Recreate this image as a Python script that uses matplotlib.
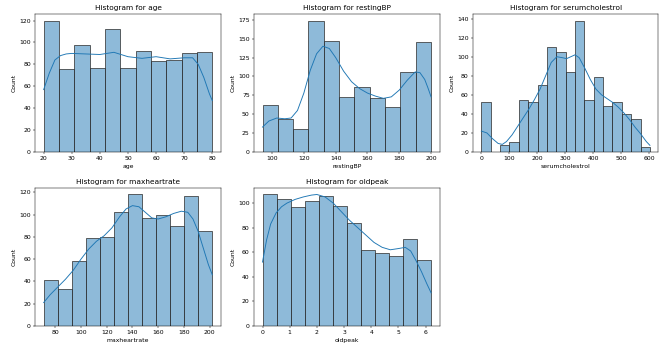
import numpy as np
import matplotlib
matplotlib.use("Agg")
import matplotlib.pyplot as plt

# histogram counts and value range for each column
AGE_RANGE = (20, 80)
AGE_COUNTS = [120, 76, 98, 77, 112, 77, 92, 83, 84, 90, 91]
AGE_KDE_X = [20, 22, 24, 26, 28, 30, 35, 40, 45, 50, 55, 60, 65, 70, 73, 75, 77, 79, 80]
AGE_KDE_Y = [57, 72, 84, 88, 89.5, 90, 89.5, 89, 91, 87, 85.5, 87, 85, 86, 86, 80, 68, 53, 47]

BP_RANGE = (94, 200)
BP_COUNTS = [62, 44, 31, 174, 147, 73, 86, 72, 59, 106, 146]
BP_KDE_X = [94, 98, 103, 108, 112, 116, 120, 124, 128, 132, 136, 140, 145, 150, 155, 160, 165,
            170, 175, 180, 185, 190, 193, 196, 198, 200]
BP_KDE_Y = [33, 41, 45, 44, 45, 55, 78, 108, 130, 140, 137, 125, 107, 93, 84, 78, 74,
            71, 73, 82, 95, 106, 105, 96, 85, 73]

CHOL_RANGE = (0, 603)
CHOL_COUNTS = [53, 0, 7, 11, 55, 52, 70, 110, 105, 84, 138, 55, 79, 48, 53, 40, 35, 5]
CHOL_KDE_X = [0, 20, 40, 60, 75, 90, 110, 130, 150, 170, 190, 210, 230, 250, 270, 290, 305,
              320, 335, 350, 370, 390, 410, 430, 450, 470, 490, 510, 530, 550, 570, 590, 603]
CHOL_KDE_Y = [22, 20, 14, 9, 8, 11, 18, 27, 36, 45, 55, 66, 80, 94, 100, 99, 98,
              100, 102, 99, 88, 76, 66, 60, 56, 52, 47, 41, 34, 26, 19, 11, 7]

HR_RANGE = (71, 202)
HR_COUNTS = [41, 33, 58, 79, 80, 102, 118, 97, 100, 90, 117, 85]
HR_KDE_X = [71, 76, 82, 88, 94, 100, 106, 112, 118, 124, 130, 135, 140, 145, 150, 155, 160,
            166, 172, 178, 183, 187, 191, 195, 199, 202]
HR_KDE_Y = [21, 28, 35, 42, 50, 60, 69, 76, 81, 88, 98, 105, 108, 107, 102, 97, 96,
            98, 101, 103, 102, 96, 85, 70, 55, 46]

OP_RANGE = (0, 6.2)
OP_COUNTS = [107, 103, 97, 102, 106, 98, 84, 62, 59, 57, 71, 54]
OP_KDE_X = [0, 0.15, 0.3, 0.5, 0.7, 0.9, 1.2, 1.5, 1.8, 2.0, 2.3, 2.6, 2.9, 3.2, 3.5, 3.8,
            4.1, 4.4, 4.7, 5.0, 5.25, 5.45, 5.65, 5.85, 6.05, 6.2]
OP_KDE_Y = [52, 70, 83, 92, 97, 100, 103, 105, 106.5, 107, 105, 100, 93, 86, 80, 74,
            68, 64, 62, 63, 64, 61, 53, 44, 34, 27]

COLUMNS = [
    ("age", AGE_RANGE, AGE_COUNTS, AGE_KDE_X, AGE_KDE_Y),
    ("restingBP", BP_RANGE, BP_COUNTS, BP_KDE_X, BP_KDE_Y),
    ("serumcholestrol", CHOL_RANGE, CHOL_COUNTS, CHOL_KDE_X, CHOL_KDE_Y),
    ("maxheartrate", HR_RANGE, HR_COUNTS, HR_KDE_X, HR_KDE_Y),
    ("oldpeak", OP_RANGE, OP_COUNTS, OP_KDE_X, OP_KDE_Y),
]


def draw_hist(ax, name, value_range, counts, kde_x, kde_y):
    edges = np.linspace(value_range[0], value_range[1], len(counts) + 1)
    centers = (edges[:-1] + edges[1:]) / 2
    ax.hist(centers, bins=edges, weights=counts,
            facecolor=matplotlib.colors.to_rgba("C0", 0.5),
            edgecolor="#333333", linewidth=1.2)
    ax.plot(kde_x, kde_y, color="C0", linewidth=1.5)
    ax.set_title(f"Histogram for {name}")
    ax.set_xlabel(name)
    ax.set_ylabel("Count")


def main():
    dpi = 665 / 15
    fig, axes = plt.subplots(2, 3, figsize=(15, 349 / dpi), dpi=dpi)
    fig.subplots_adjust(left=0.053, right=0.99, top=0.96, bottom=0.066,
                        wspace=0.18, hspace=0.26)
    for ax, (name, rng, counts, kx, ky) in zip(axes.flat, COLUMNS):
        draw_hist(ax, name, rng, counts, kx, ky)
    axes.flat[-1].remove()
    fig.savefig("out.png", dpi=dpi)


if __name__ == "__main__":
    main()
